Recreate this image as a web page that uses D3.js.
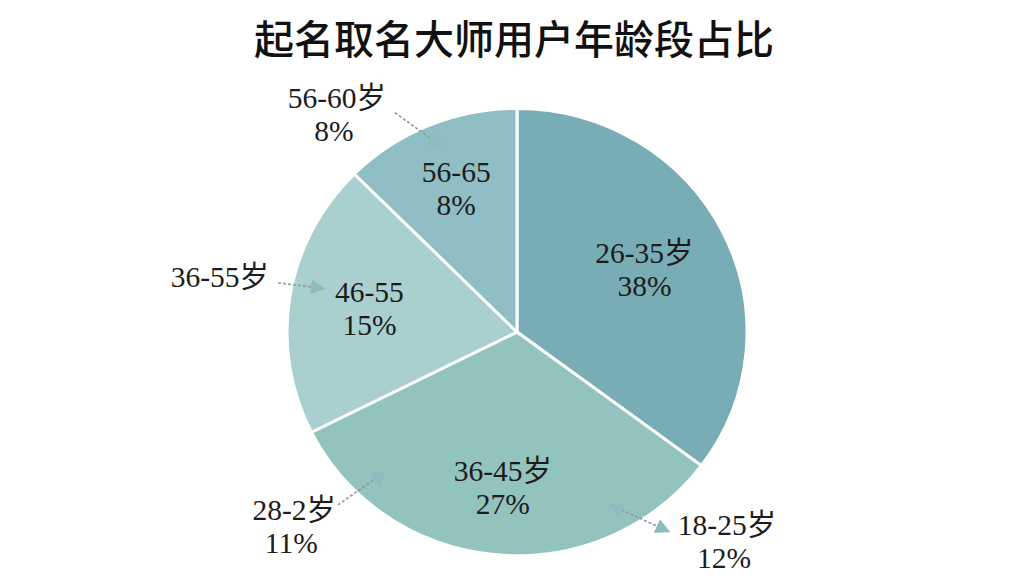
<!DOCTYPE html>
<html lang="zh">
<head>
    <meta charset="UTF-8">
    <title>起名取名大师用户年龄段占比</title>
    <script src="https://d3js.org/d3.v7.min.js"></script>
    <style>
        body {
            margin: 0;
            background: #ffffff;
        }
        .title {
            font-family: "Noto Sans CJK SC", sans-serif;
            font-size: 40px;
            font-weight: 500;
            fill: #111;
        }
        .lbl {
            font-family: "Liberation Serif", "Noto Sans CJK SC", serif;
            font-size: 29.5px;
            fill: #1c1c1c;
        }
        .slice {
            stroke: #ffffff;
            stroke-width: 3px;
        }
        .callout-line {
            fill: none;
            stroke: #8c9b9d;
            stroke-width: 1.6px;
            stroke-dasharray: 3 2;
        }
    </style>
</head>
<body>
    <svg width="1024" height="576"></svg>

    <script>
        // slices, clockwise from 12 o'clock
        const groups = ['26-35岁', '36-45岁', '46-55', '56-65'];
        const pctText = ['38%', '27%', '15%', '8%'];
        // angle share of each slice as drawn in the picture
        const shares = [35.2, 32.4, 19.9, 12.5];
        const colors = ['#78adb6', '#93c3bd', '#a9d0cf', '#8fbec4'];

        // outside callouts
        const calloutName = ['56-60岁', '36-55岁', '28-2岁', '18-25岁'];
        const calloutPct = ['8%', '', '11%', '12%'];

        // layout (not data)
        const cx = 517, cy = 332, r = 230, squash = 0.972;
        const labelK = [0.62, 0.70, 0.65, 0.69];
        // callout text: [angle deg, radius], arrow: [from angle, from radius, to angle, to radius, both ends]
        const calloutText = [[320.3, 282], [280.3, 302], [228.8, 296], [135, 297]];
        const calloutArrow = [
            [330.9, 251, 337.1, 205, false],
            [281.6, 244, 282.6, 202, false],
            [226, 249, 223.6, 196, false],
            [150.4, 202, 143.2, 247, true]
        ];

        const svg = d3.select('svg');
        const rad = d => d * Math.PI / 180;

        svg.append('text').attr('class', 'title')
            .attr('x', 514).attr('y', 54)
            .attr('text-anchor', 'middle')
            .text('起名取名大师用户年龄段占比');

        const pie = d3.pie().sort(null).value(d => d);
        const arcs = pie(shares);
        const arc = d3.arc().innerRadius(0).outerRadius(r);

        const g = svg.append('g')
            .attr('transform', 'translate(' + cx + ' ' + cy + ') scale(1 ' + squash + ')');

        g.selectAll('path').data(arcs).enter().append('path')
            .attr('class', 'slice')
            .attr('d', arc)
            .style('fill', (d, i) => colors[i]);

        // inside labels
        arcs.forEach((d, i) => {
            const k = labelK[i] * r;
            const c = d3.arc().innerRadius(k).outerRadius(k).centroid(d);
            const x = cx + c[0], y = cy + c[1] * squash;
            const t = svg.append('text').attr('class', 'lbl').attr('text-anchor', 'middle');
            t.append('tspan').attr('x', x).attr('y', y - 7).text(groups[i]);
            t.append('tspan').attr('x', x).attr('y', y + 26).text(pctText[i]);
        });

        // arrow heads
        const defs = svg.append('defs');
        ['end', 'start'].forEach(n => {
            defs.append('marker')
                .attr('id', 'head-' + n)
                .attr('viewBox', '0 0 10 10')
                .attr('refX', n === 'end' ? 6 : 4).attr('refY', 5)
                .attr('markerWidth', 15).attr('markerHeight', 15)
                .attr('markerUnits', 'userSpaceOnUse')
                .attr('orient', n === 'end' ? 'auto' : 'auto-start-reverse')
                .append('path')
                .attr('d', 'M0,0 L10,5 L0,10 Z')
                .style('fill', '#8dbcc0');
        });

        calloutArrow.forEach(a => {
            const p0 = d3.pointRadial(rad(a[0]), a[1]);
            const p1 = d3.pointRadial(rad(a[2]), a[3]);
            const line = svg.append('line').attr('class', 'callout-line')
                .attr('x1', cx + p0[0]).attr('y1', cy + p0[1])
                .attr('x2', cx + p1[0]).attr('y2', cy + p1[1])
                .attr('marker-end', 'url(#head-end)');
            if (a[4]) line.attr('marker-start', 'url(#head-start)');
        });

        calloutName.forEach((name, i) => {
            const p = d3.pointRadial(rad(calloutText[i][0]), calloutText[i][1]);
            const x = cx + p[0], y = cy + p[1];
            const t = svg.append('text').attr('class', 'lbl').attr('text-anchor', 'middle');
            if (calloutPct[i]) {
                t.append('tspan').attr('x', x).attr('y', y - 7).text(name);
                t.append('tspan').attr('x', x - 3).attr('y', y + 26).text(calloutPct[i]);
            } else {
                t.append('tspan').attr('x', x).attr('y', y + 9).text(name);
            }
        });
    </script>
</body>
</html>
